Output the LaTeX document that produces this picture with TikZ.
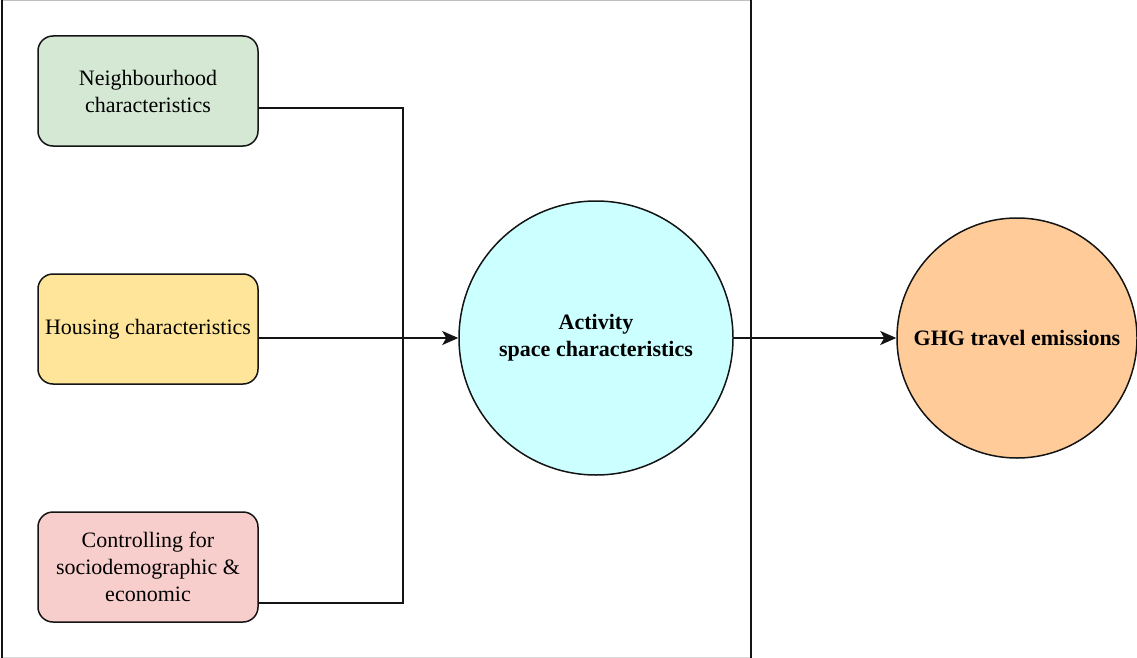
\documentclass[tikz,border=0pt]{standalone}
\usepackage{fontspec}
\setmainfont{Liberation Serif}
\usetikzlibrary{arrows.meta}
\definecolor{cgreen}{HTML}{D5E8D4}
\definecolor{cyellow}{HTML}{FFE599}
\definecolor{cred}{HTML}{F8CECC}
\definecolor{ccyan}{HTML}{CCFFFF}
\definecolor{corange}{HTML}{FFCC99}
\definecolor{cline}{HTML}{141414}
\begin{document}
\begin{tikzpicture}[x=1pt,y=-1pt,
  every node/.style={font=\fontsize{22}{27}\selectfont, text=black},
  factor/.style={draw=cline, line width=1.5pt, rounded corners=15pt, minimum width=220pt, minimum height=110pt, align=center, inner sep=2pt},
  bubble/.style={draw=cline, line width=1.5pt, circle, align=center, font=\fontsize{22}{27}\selectfont\bfseries, inner sep=0pt},
  link/.style={draw=cline, line width=1.5pt},
  arr/.style={link, -{Stealth[length=16pt,width=14pt,inset=4pt]}}]
\useasboundingbox (0,0) rectangle (1137,658);
% frame
\draw[line width=1pt, gray!50] (2,0.5) -- (751,0.5);
\draw[line width=1pt, gray!30] (2,657.5) -- (751,657.5);
\draw[line width=1.6pt, cline] (2,0) -- (2,658);
\draw[line width=1.6pt, cline] (751,0) -- (751,658);
% nodes
\node[factor, fill=cgreen] (nb) at (148,91) {Neighbourhood\\characteristics};
\node[factor, fill=cyellow] (hs) at (148,329) {Housing characteristics};
\node[factor, fill=cred] (cs) at (148,567) {Controlling for\\sociodemographic \&\\economic};
\node[bubble, fill=ccyan, minimum size=274pt] (as) at (596,338) {Activity\\space characteristics};
\node[bubble, fill=corange, minimum size=240pt] (ghg) at (1017,338) {GHG travel emissions};
\coordinate (j1) at (403,108);
\coordinate (j3) at (403,603);
% connectors
\draw[link] (nb.east |- j1) -- (j1) -- (j3) -- (cs.east |- j3);
\draw[arr] (hs.east |- as.west) -- (as.west);
\draw[arr] (as.east) -- (ghg.west);
\end{tikzpicture}
\end{document}
